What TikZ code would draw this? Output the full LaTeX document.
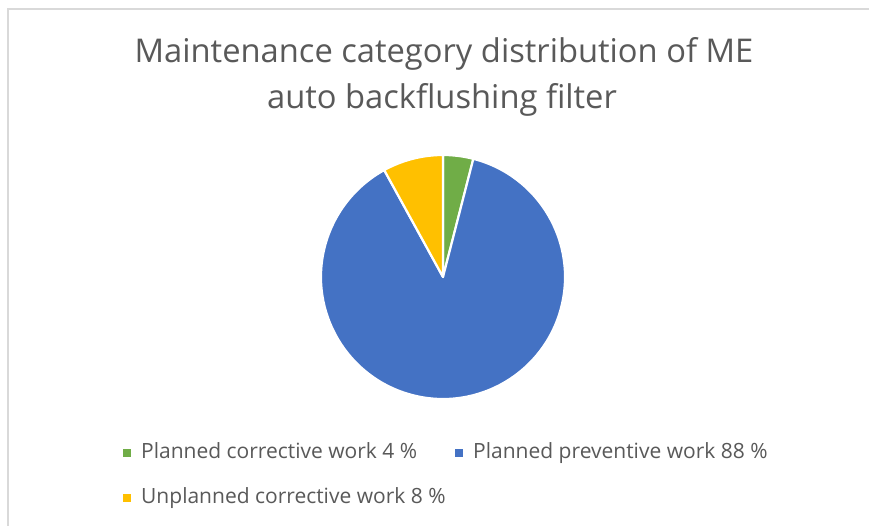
\documentclass[tikz,border=0pt]{standalone}
\usepackage{fontspec}
\setmainfont{Open Sans}
\definecolor{txtgray}{HTML}{595959}
\definecolor{framegray}{HTML}{D9D9D9}
\definecolor{pcgreen}{HTML}{70AD47}
\definecolor{ppblue}{HTML}{4472C4}
\definecolor{ucyellow}{HTML}{FFC000}
\tikzset{
  slice/.style={draw=white, line width=2.2pt, line join=round},
  keybox/.style={rectangle, minimum size=8pt, inner sep=0pt},
  keytext/.style={anchor=base west, inner sep=0pt, text=txtgray, font=\fontsize{21}{24}\selectfont},
  titletext/.style={anchor=base, inner sep=0pt, text=txtgray, font=\fontsize{32.7}{40}\selectfont}
}
\begin{document}
\begin{tikzpicture}[x=1pt, y=1pt]
            \useasboundingbox (0,0) rectangle (869,526);
            \fill[white] (0,0) rectangle (869,526);

            % chart frame
            \coordinate (ftop) at (8,517);
            \coordinate (fright) at (869,517);
            \coordinate (fbottom) at (8,0);
            \draw[framegray, line width=1.5pt] (fright) -- (ftop) -- (fbottom);

            % title
            \node[titletext] (title1) at (444,463) {Maintenance category distribution of ME};
            \node[titletext] (title2) at (442,417) {auto backflushing filter};

            % pie
            \coordinate (c) at (443,249);
            \filldraw[slice, fill=pcgreen] (c) -- ++(90:122) arc[start angle=90, end angle=75.6, radius=122] -- cycle;
            \filldraw[slice, fill=ppblue] (c) -- ++(75.6:122) arc[start angle=75.6, end angle=-241.2, radius=122] -- cycle;
            \filldraw[slice, fill=ucyellow] (c) -- ++(118.8:122) arc[start angle=118.8, end angle=90, radius=122] -- cycle;

            % legend
            \node[keybox, fill=pcgreen] (k1) at (127,73) {};
            \node[keytext] (t1) at (141,67) {Planned corrective work 4 \%};
            \node[keybox, fill=ppblue] (k2) at (459,73) {};
            \node[keytext] (t2) at (473,67) {Planned preventive work 88 \%};
            \node[keybox, fill=ucyellow] (k3) at (127,28) {};
            \node[keytext] (t3) at (141,22) {Unplanned corrective work 8 \%};
        \end{tikzpicture}
\end{document}
